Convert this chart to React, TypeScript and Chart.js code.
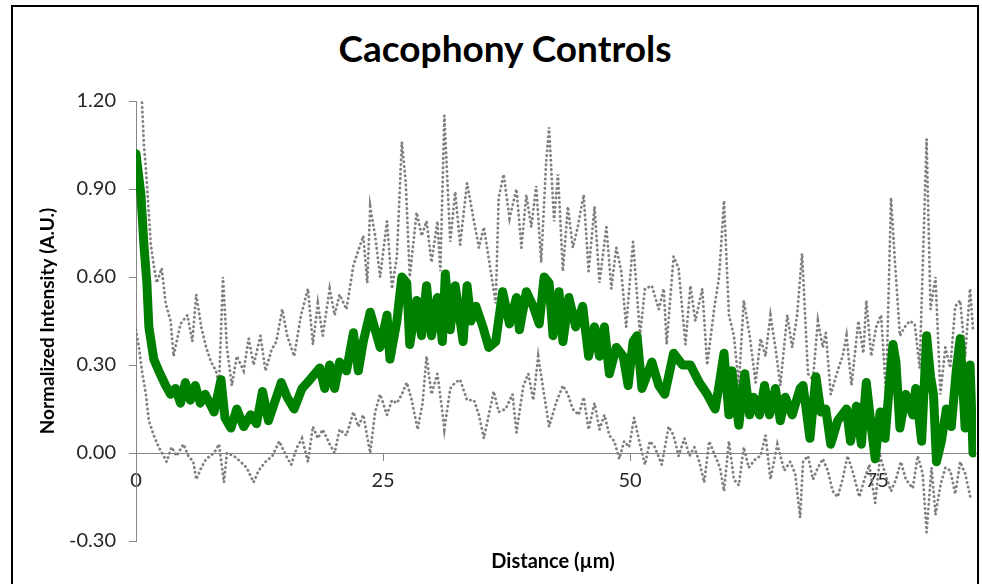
import React, { useEffect, useRef } from "react";
import { Chart, registerables } from "chart.js";

Chart.register(...registerables);

const chartTitle = "Cacophony Controls";
const xAxisTitle = "Distance (µm)";
const yAxisTitle = "Normalized Intensity (A.U.)";

const xTicks = [0, 25, 50, 75];
const yTicks = [-0.3, 0, 0.3, 0.6, 0.9, 1.2];

// Mean profile (green)
const meanX = [
  0, 0.5, 0.8, 1.1, 1.3, 1.8, 2.3, 3.0, 3.5, 4.0,
  4.5, 5.0, 5.5, 6.0, 6.5, 7.0, 7.9, 8.6, 9.0, 9.6,
  10.2, 10.9, 11.6, 12.2, 12.8, 13.4, 14.0, 14.7, 15.3, 16.0,
  16.8, 17.6, 18.6, 19.1, 19.6, 20.1, 20.6, 21.3, 22.0, 22.5,
  23.0, 23.7, 24.7, 25.4, 25.7, 26.4, 26.9, 27.4, 27.7, 28.4,
  28.9, 29.4, 29.9, 30.5, 31.0, 31.3, 31.8, 32.3, 33.1, 33.5,
  33.9, 34.4, 35.1, 35.7, 36.4, 37.1, 37.8, 38.5, 38.8, 39.5,
  40.2, 40.8, 41.3, 41.8, 42.2, 42.8, 43.2, 43.8, 44.5, 45.2,
  45.8, 46.4, 46.9, 47.4, 47.9, 48.6, 49.3, 49.8, 50.3, 50.7,
  51.2, 52.2, 52.9, 53.5, 54.4, 55.3, 56.1, 57.0, 57.8, 58.6,
  59.0, 59.5, 60.0, 60.3, 61.0, 61.6, 62.1, 62.5, 63.1, 63.6,
  64.1, 64.7, 65.2, 65.7, 66.4, 67.2, 67.5, 68.2, 68.8, 69.3,
  69.8, 70.3, 71.0, 71.9, 72.3, 72.9, 73.4, 73.9, 74.4, 74.8,
  75.3, 75.8, 76.3, 76.6, 76.9, 77.3, 77.9, 78.6, 78.9, 79.5,
  80.0, 80.4, 80.7, 81.0, 81.5, 82.0, 82.5, 83.0, 83.4, 83.9,
  84.4, 84.7,
];
const meanY = [
  1.02, 0.88, 0.71, 0.58, 0.43, 0.32, 0.28, 0.23, 0.20, 0.22,
  0.17, 0.24, 0.18, 0.23, 0.17, 0.20, 0.14, 0.25, 0.12, 0.085,
  0.15, 0.09, 0.13, 0.10, 0.21, 0.11, 0.17, 0.24, 0.19, 0.15,
  0.22, 0.25, 0.29, 0.22, 0.30, 0.22, 0.31, 0.28, 0.41, 0.28,
  0.38, 0.48, 0.36, 0.47, 0.32, 0.45, 0.60, 0.58, 0.37, 0.52,
  0.40, 0.57, 0.40, 0.53, 0.38, 0.61, 0.42, 0.57, 0.38, 0.57,
  0.45, 0.50, 0.43, 0.36, 0.38, 0.55, 0.44, 0.53, 0.42, 0.55,
  0.50, 0.44, 0.60, 0.58, 0.40, 0.55, 0.38, 0.53, 0.43, 0.50,
  0.33, 0.43, 0.33, 0.43, 0.27, 0.36, 0.33, 0.23, 0.38, 0.40,
  0.22, 0.31, 0.23, 0.20, 0.34, 0.30, 0.30, 0.24, 0.20, 0.15,
  0.23, 0.34, 0.13, 0.28, 0.095, 0.27, 0.13, 0.19, 0.13, 0.23,
  0.13, 0.22, 0.11, 0.19, 0.13, 0.22, 0.23, 0.05, 0.26, 0.14,
  0.15, 0.03, 0.11, 0.15, 0.04, 0.16, 0.03, 0.24, 0.09, -0.02,
  0.14, 0.05, 0.26, 0.37, 0.31, 0.085, 0.20, 0.13, 0.22, 0.04,
  0.40, 0.26, 0.20, -0.03, 0.04, 0.15, 0.09, 0.28, 0.39, 0.085,
  0.30, 0.00,
];

// Mean + SD (grey dotted, upper)
const upperX = [
  0, 0.6, 0.8, 1.0, 1.5, 1.8, 2.1, 2.6, 3.0, 3.5,
  3.8, 4.5, 5.2, 5.7, 6.1, 6.6, 7.1, 7.6, 8.1, 8.4,
  8.8, 9.2, 9.7, 10.2, 10.9, 11.4, 11.9, 12.6, 13.1, 13.7,
  14.2, 14.8, 15.3, 16.0, 16.7, 17.4, 17.9, 18.4, 18.9, 19.6,
  20.1, 20.6, 21.3, 22.0, 22.5, 23.0, 23.4, 23.7, 24.2, 24.7,
  25.4, 25.9, 26.4, 26.9, 27.3, 27.7, 28.4, 28.9, 29.4, 29.9,
  30.5, 30.8, 31.2, 31.8, 32.3, 32.8, 33.5, 34.2, 34.7, 35.2,
  35.9, 36.4, 36.7, 37.2, 37.8, 38.5, 39.0, 39.5, 40.0, 40.5,
  41.0, 41.5, 41.8, 42.3, 42.7, 43.2, 43.7, 44.2, 44.7, 45.3,
  45.8, 46.4, 46.9, 47.6, 48.1, 48.6, 49.1, 49.6, 50.3, 51.0,
  51.5, 52.2, 52.9, 53.4, 53.7, 54.4, 54.9, 55.6, 56.1, 56.6,
  57.3, 57.8, 58.5, 59.0, 59.5, 60.0, 60.5, 61.0, 61.5, 62.1,
  62.7, 63.2, 63.7, 64.2, 64.7, 65.2, 65.9, 66.4, 66.9, 67.4,
  68.0, 68.5, 69.0, 69.5, 69.8, 70.3, 71.0, 71.5, 71.9, 72.4,
  73.1, 73.6, 73.9, 74.4, 74.9, 75.4, 75.9, 76.4, 76.8, 77.3,
  77.8, 78.3, 78.8, 79.3, 80.0, 80.4, 80.9, 81.4, 81.9, 82.4,
  82.9, 83.4, 83.9, 84.4, 84.7,
];
const upperY = [
  1.45, 1.20, 1.05, 0.97, 0.71, 0.64, 0.58, 0.63, 0.51, 0.45,
  0.33, 0.44, 0.47, 0.38, 0.54, 0.43, 0.36, 0.31, 0.28, 0.23,
  0.60, 0.36, 0.23, 0.33, 0.28, 0.39, 0.30, 0.40, 0.28, 0.35,
  0.38, 0.49, 0.40, 0.33, 0.47, 0.56, 0.37, 0.51, 0.40, 0.56,
  0.47, 0.54, 0.49, 0.64, 0.69, 0.74, 0.58, 0.84, 0.74, 0.60,
  0.79, 0.56, 0.67, 1.06, 0.92, 0.60, 0.82, 0.74, 0.79, 0.65,
  0.79, 0.62, 1.15, 0.72, 0.89, 0.71, 0.92, 0.79, 0.70, 0.77,
  0.62, 0.51, 0.87, 0.95, 0.80, 0.90, 0.70, 0.88, 0.77, 0.91,
  0.65, 0.99, 1.11, 0.79, 0.95, 0.62, 0.84, 0.70, 0.77, 0.88,
  0.62, 0.84, 0.58, 0.77, 0.56, 0.70, 0.62, 0.43, 0.72, 0.40,
  0.56, 0.57, 0.49, 0.56, 0.37, 0.67, 0.63, 0.37, 0.57, 0.45,
  0.56, 0.30, 0.49, 0.60, 0.86, 0.47, 0.40, 0.23, 0.52, 0.40,
  0.24, 0.39, 0.33, 0.47, 0.36, 0.23, 0.47, 0.36, 0.47, 0.68,
  0.27, 0.25, 0.45, 0.36, 0.41, 0.20, 0.28, 0.33, 0.40, 0.23,
  0.45, 0.34, 0.52, 0.33, 0.43, 0.47, 0.20, 0.87, 0.65, 0.40,
  0.43, 0.45, 0.44, 0.29, 1.07, 0.49, 0.60, 0.20, 0.36, 0.29,
  0.50, 0.52, 0.33, 0.56, 0.42,
];

// Mean - SD (grey dotted, lower)
const lowerX = [
  0, 0.3, 0.6, 1.0, 1.3, 1.8, 2.3, 2.8, 3.1, 3.6,
  4.1, 4.8, 5.3, 5.8, 6.1, 6.6, 7.1, 7.9, 8.4, 8.9,
  9.2, 9.9, 10.6, 11.2, 11.9, 12.4, 13.1, 13.8, 14.5, 15.2,
  15.7, 16.3, 16.8, 17.4, 17.9, 18.4, 18.9, 19.6, 20.1, 20.6,
  21.3, 22.0, 22.5, 23.0, 23.7, 24.2, 24.7, 25.4, 25.9, 26.4,
  26.9, 27.4, 27.9, 28.5, 29.0, 29.4, 29.9, 30.5, 31.0, 31.2,
  31.8, 32.3, 32.8, 33.5, 34.2, 34.7, 35.2, 35.7, 36.2, 36.7,
  37.4, 38.1, 38.5, 39.2, 39.7, 40.2, 40.7, 41.2, 41.8, 42.5,
  43.2, 43.7, 44.2, 44.8, 45.3, 45.8, 46.4, 46.9, 47.4, 47.9,
  48.4, 48.9, 49.4, 49.9, 50.4, 51.0, 51.5, 52.0, 52.5, 53.2,
  53.9, 54.4, 54.9, 55.5, 56.0, 56.5, 57.0, 57.5, 58.0, 58.6,
  59.1, 59.5, 60.0, 60.5, 61.0, 61.5, 62.0, 62.7, 63.2, 63.7,
  64.2, 64.9, 65.6, 66.2, 66.7, 67.2, 67.5, 68.0, 68.5, 69.0,
  69.5, 70.0, 70.5, 71.0, 71.5, 72.0, 72.5, 73.2, 73.7, 74.2,
  74.8, 75.3, 75.8, 76.4, 76.9, 77.4, 77.9, 78.6, 79.1, 79.6,
  80.0, 80.5, 80.9, 81.4, 81.9, 82.4, 82.9, 83.4, 83.9, 84.5,
];
const lowerY = [
  0.42, 0.36, 0.28, 0.20, 0.11, 0.06, 0.02, -0.01, -0.03, 0.02,
  -0.01, 0.03, -0.01, -0.03, -0.09, -0.05, -0.02, 0.00, 0.03, -0.10,
  0.00, -0.01, -0.03, -0.05, -0.10, -0.06, -0.03, -0.01, 0.04, -0.01,
  -0.04, 0.02, 0.05, -0.03, 0.09, 0.05, 0.08, 0.03, 0.00, 0.08,
  0.06, 0.14, 0.09, 0.13, 0.00, 0.14, 0.20, 0.13, 0.18, 0.17,
  0.20, 0.24, 0.18, 0.08, 0.17, 0.33, 0.20, 0.27, 0.14, 0.08,
  0.22, 0.24, 0.25, 0.18, 0.18, 0.13, 0.05, 0.13, 0.21, 0.14,
  0.15, 0.20, 0.07, 0.23, 0.27, 0.18, 0.33, 0.22, 0.09, 0.17,
  0.23, 0.20, 0.15, 0.13, 0.19, 0.08, 0.17, 0.08, 0.13, 0.06,
  0.04, -0.02, 0.04, 0.02, 0.12, 0.03, -0.04, 0.04, 0.02, -0.04,
  0.09, 0.06, -0.01, 0.05, -0.01, 0.02, -0.03, -0.10, 0.04, -0.01,
  -0.05, -0.13, 0.04, -0.09, -0.11, 0.02, -0.05, -0.02, -0.01, 0.06,
  -0.09, 0.03, -0.06, -0.03, -0.07, -0.22, -0.03, -0.01, -0.09, -0.05,
  -0.02, -0.06, -0.13, -0.15, -0.09, -0.01, -0.06, -0.15, -0.09, -0.04,
  -0.17, -0.01, -0.07, -0.13, -0.09, -0.03, -0.09, -0.12, -0.01, -0.07,
  -0.27, -0.05, -0.21, -0.11, -0.05, -0.06, -0.14, -0.03, -0.07, -0.16,
];

function pairs(xs: number[], ys: number[]) {
  const n = Math.min(xs.length, ys.length);
  const out: { x: number; y: number }[] = [];
  for (let i = 0; i < n; i++) out.push({ x: xs[i], y: ys[i] });
  return out;
}

const FONT = "Lato, 'Open Sans', sans-serif";
const AXIS_GREY = "#868686";
const TICK_TEXT = "#262626";
const DOT_GREY = "#808080";

export default function App() {
  const canvasRef = useRef<HTMLCanvasElement>(null);

  useEffect(() => {
    if (!canvasRef.current) return;
    const chart = new Chart(canvasRef.current, {
      type: "line",
      data: {
        datasets: [
          {
            label: "Mean",
            data: pairs(meanX, meanY),
            borderColor: "#008000",
            backgroundColor: "#008000",
            borderWidth: 9,
            borderJoinStyle: "round",
            borderCapStyle: "round",
            pointRadius: 0,
            tension: 0,
          },
          {
            label: "Mean + SD",
            data: pairs(upperX, upperY),
            borderColor: DOT_GREY,
            borderWidth: 2.8,
            borderDash: [0.3, 4.4],
            borderCapStyle: "round",
            pointRadius: 0,
            tension: 0,
          },
          {
            label: "Mean - SD",
            data: pairs(lowerX, lowerY),
            borderColor: DOT_GREY,
            borderWidth: 2.8,
            borderDash: [0.3, 4.4],
            borderCapStyle: "round",
            pointRadius: 0,
            tension: 0,
          },
        ],
      },
      options: {
        responsive: false,
        animation: false,
        devicePixelRatio: 1,
        layout: { padding: { left: 36, top: 101, right: 6, bottom: 43 } },
        plugins: {
          legend: { display: false },
          tooltip: { enabled: false },
          title: { display: false },
        },
        scales: {
          x: {
            type: "linear",
            position: { y: 0 } as any,
            min: 0,
            max: 85,
            afterBuildTicks: (s: any) => {
              s.ticks = xTicks.map((v) => ({ value: v }));
            },
            grid: {
              drawOnChartArea: false,
              drawTicks: true,
              tickLength: 7,
              color: AXIS_GREY,
            },
            border: { color: AXIS_GREY, width: 1 },
            ticks: {
              autoSkip: false,
              maxRotation: 0,
              padding: 9,
              color: TICK_TEXT,
              font: { family: FONT, size: 20 },
            },
          },
          y: {
            type: "linear",
            min: -0.3,
            max: 1.2,
            afterBuildTicks: (s: any) => {
              s.ticks = yTicks.map((v) => ({ value: v }));
            },
            afterFit: (s: any) => {
              s.width = 100;
            },
            grid: {
              drawOnChartArea: false,
              drawTicks: true,
              tickLength: 7,
              color: AXIS_GREY,
            },
            border: { color: AXIS_GREY, width: 1 },
            ticks: {
              autoSkip: false,
              padding: 13,
              color: TICK_TEXT,
              font: { family: FONT, size: 20 },
              callback: (v: any) => {
                const n = Number(v);
                return Math.abs(n) < 1e-9 ? "0.00" : n.toFixed(2);
              },
            },
            title: {
              display: true,
              text: yAxisTitle,
              color: "#000",
              padding: { top: 0, bottom: 0 },
              font: { family: FONT, size: 19, weight: "bold" },
            },
          },
        },
      },
    });
    return () => chart.destroy();
  }, []);

  return (
    <div
      style={{
        position: "fixed",
        left: 0,
        top: 0,
        width: 982,
        height: 584,
        background: "#fff",
        overflow: "hidden",
      }}
    >
      <div
        style={{
          position: "absolute",
          left: 11,
          top: 5,
          width: 964,
          height: 620,
          border: "2px solid #000",
        }}
      />
      <div
        style={{
          position: "absolute",
          left: 0,
          width: 1010,
          top: 29,
          textAlign: "center",
          fontFamily: FONT,
          fontWeight: 700,
          fontSize: 37,
          lineHeight: "37px",
          color: "#000",
        }}
      >
        {chartTitle}
      </div>
      <canvas
        ref={canvasRef}
        width={982}
        height={584}
        style={{ position: "absolute", left: 0, top: 0, width: 982, height: 584 }}
      />
      <div
        style={{
          position: "absolute",
          left: 0,
          width: 1106,
          top: 549,
          textAlign: "center",
          fontFamily: FONT,
          fontWeight: 700,
          fontSize: 20,
          lineHeight: "22px",
          color: "#000",
        }}
      >
        {xAxisTitle}
      </div>
    </div>
  );
}
